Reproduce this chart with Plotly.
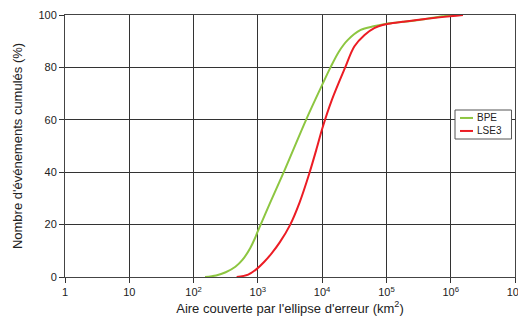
import plotly.graph_objects as go

# Area covered by error ellipse (km^2) and cumulative % of events
bpe_area = [151, 224, 316, 447, 575, 759, 891, 1000, 1549, 2630, 5623, 10000,
            13490, 18197, 25119, 39811, 63096, 100000, 323594, 741310, 1258925]
bpe_pct = [0, 0.6, 1.8, 3.9, 6.5, 11, 14.5, 17.5, 28.3, 41, 60, 73.3,
           80, 86, 90.5, 94.3, 95.7, 96.7, 98.1, 99.5, 100]

lse3_area = [468, 708, 955, 1259, 1660, 2188, 3162, 4467, 6310, 8318, 10000,
             14125, 22387, 31623, 45709, 64565, 87096, 109648, 177828, 398107, 1548817]
lse3_pct = [0, 0.9, 3.0, 5.8, 9.2, 13.2, 19.8, 28.5, 39.5, 49.5, 56.5,
            67.5, 79.5, 88, 92.4, 95, 96.2, 96.7, 97.4, 98.5, 100]

series_names = ["BPE", "LSE3"]
series_colors = ["#8dc641", "#ec1c24"]

x_tickvals = [1, 10, 100, 1e3, 1e4, 1e5, 1e6, 1e7]
x_ticktext = ["1", "10", "10<sup>2</sup>", "10<sup>3</sup>", "10<sup>4</sup>",
              "10<sup>5</sup>", "10<sup>6</sup>", "10<sup>7</sup>"]
y_tickvals = [0, 20, 40, 60, 80, 100]

font = "Liberation Sans, Arial, sans-serif"

fig = go.Figure()
for xs, ys, name, col in [(bpe_area, bpe_pct, series_names[0], series_colors[0]),
                          (lse3_area, lse3_pct, series_names[1], series_colors[1])]:
    fig.add_trace(go.Scatter(x=xs, y=ys, mode="lines", name=name, showlegend=False,
                             line=dict(color=col, width=2, shape="spline", smoothing=0.9)))

# Compact legend box (paper coordinates)
lx0, lx1, ly0, ly1 = 0.8667, 0.9922, 0.5267, 0.6374
shapes = [dict(type="rect", xref="paper", yref="paper", x0=lx0, x1=lx1, y0=ly0, y1=ly1,
               line=dict(color="#555", width=1), fillcolor="white", layer="above")]
annotations = []
for i, (name, col) in enumerate(zip(series_names, series_colors)):
    yy = 0.607 - i * 0.0496
    shapes.append(dict(type="line", xref="paper", yref="paper", x0=0.8778, x1=0.9067,
                       y0=yy, y1=yy, line=dict(color=col, width=2), layer="above"))
    annotations.append(dict(xref="paper", yref="paper", x=0.9111, y=yy, text=name,
                            showarrow=False, xanchor="left", yanchor="middle",
                            font=dict(size=10, color="#222")))

fig.update_layout(
    width=518, height=322,
    margin=dict(l=65, r=3, t=15, b=45),
    paper_bgcolor="white", plot_bgcolor="white",
    font=dict(family=font, size=11, color="#222"),
    showlegend=False,
    shapes=shapes, annotations=annotations,
)
fig.update_xaxes(
    type="log", range=[0, 7], tickvals=x_tickvals, ticktext=x_ticktext,
    automargin=False, ticklabeloverflow="allow",
    showgrid=True, gridcolor="#333", gridwidth=1,
    showline=True, linecolor="#444", linewidth=1, mirror=True,
    ticks="outside", ticklen=5, tickcolor="#333",
    title=dict(text="Aire couverte par l'ellipse d'erreur (km<sup>2</sup>)", standoff=6),
    zeroline=False,
)
fig.update_yaxes(
    range=[0, 100], tickvals=y_tickvals,
    automargin=False,
    showgrid=True, gridcolor="#333", gridwidth=1,
    showline=True, linecolor="#444", linewidth=1, mirror=True,
    ticks="outside", ticklen=5, tickcolor="#333",
    title=dict(text="Nombre d'événements cumulés (%)", standoff=12),
    zeroline=False,
)

fig.write_html("out.html")
